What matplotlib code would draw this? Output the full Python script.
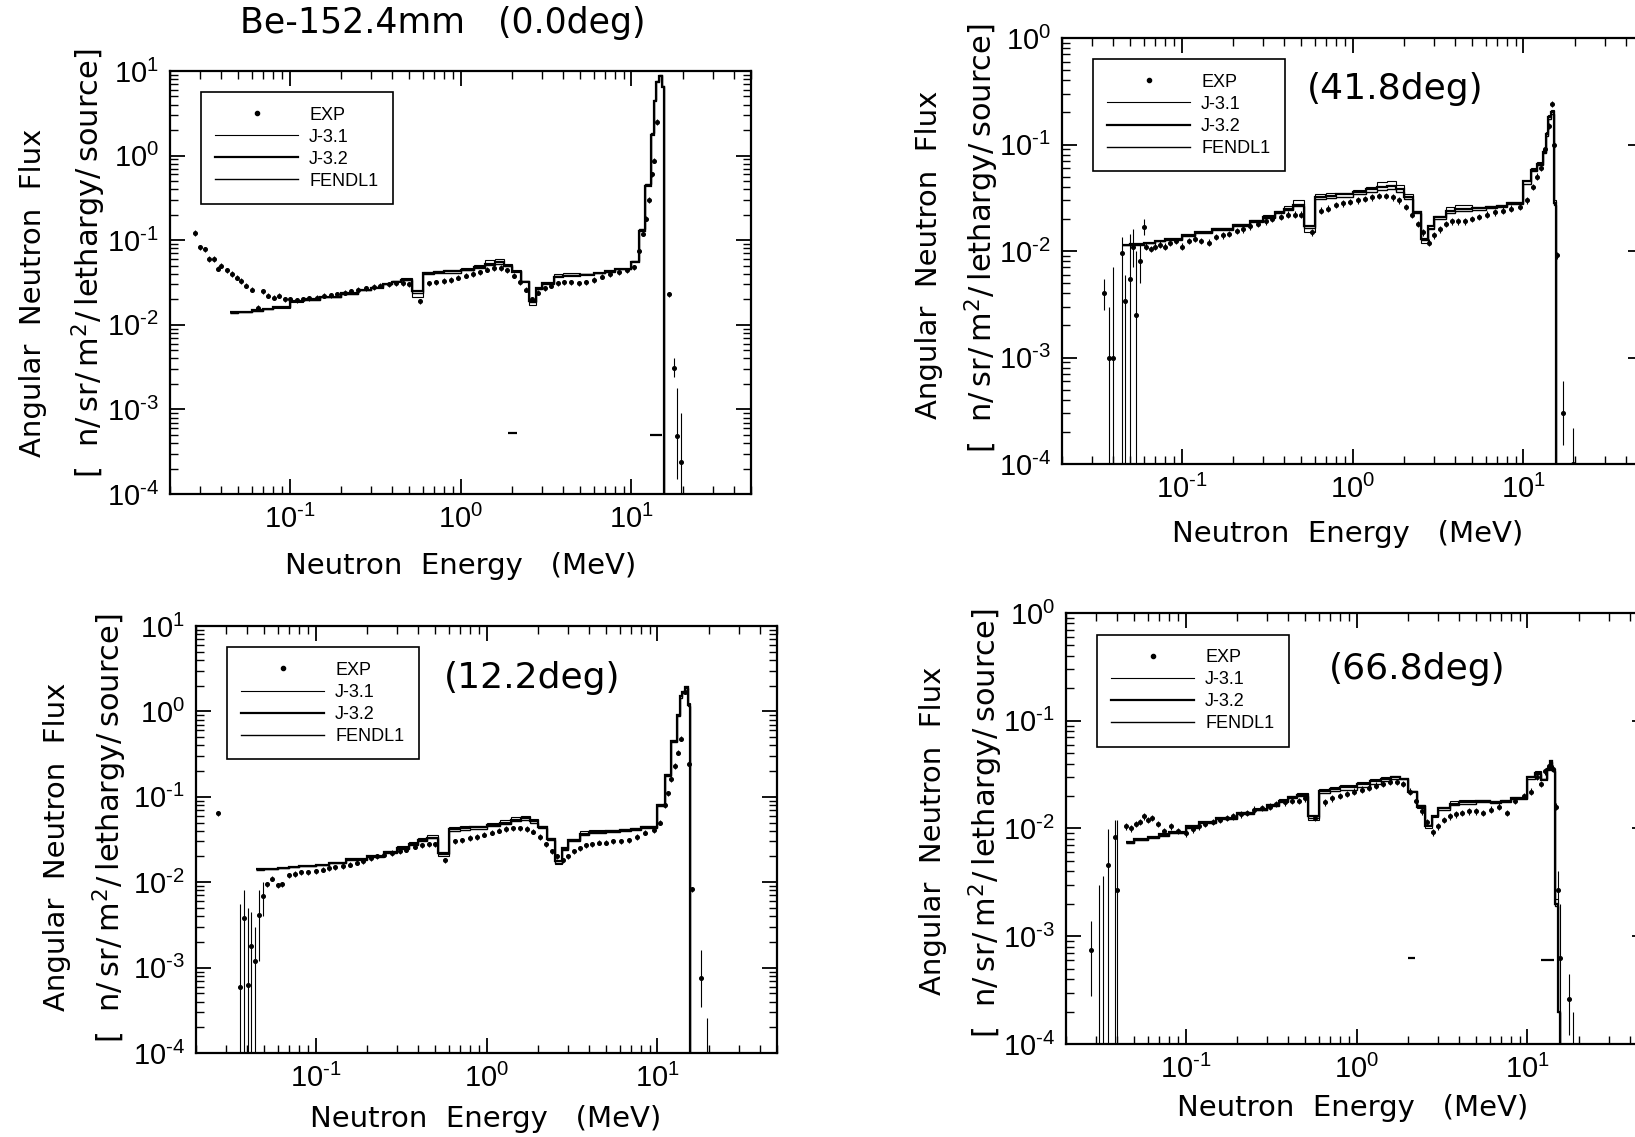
import numpy as np
import matplotlib
matplotlib.use('Agg')
import matplotlib.pyplot as plt
from matplotlib.lines import Line2D
from matplotlib.ticker import LogLocator, FuncFormatter, NullFormatter

plt.rcParams['font.family'] = ['DejaVu Sans']
plt.rcParams['mathtext.default'] = 'regular'

# --- calculation group structure (MeV), shared by all panels ---
edges = [0.045, 0.05, 0.06, 0.07, 0.08, 0.1, 0.12, 0.15, 0.2, 0.25, 0.3, 0.35,
         0.4, 0.45, 0.52, 0.6, 0.7, 0.8, 1.0, 1.2, 1.4, 1.6, 1.8, 2.0, 2.25,
         2.5, 2.75, 3.0, 3.5, 4.0, 5.0, 6.0, 7.0, 8.0, 10.0, 11.0, 12.0, 13.0,
         13.5, 14.0, 14.5, 15.0, 15.5, 20.0]

# --- 0.0 deg ---
p1_j31 = [0.0138, 0.0140, 0.0146, 0.0153, 0.0160, 0.0188, 0.0198, 0.0212, 0.0232, 0.0255,
          0.0278, 0.0305, 0.0330, 0.0355, 0.0215, 0.0420, 0.0435, 0.0445, 0.0470, 0.0510,
          0.0580, 0.0600, 0.0530, 0.0450, 0.0330, 0.0170, 0.0265, 0.0310, 0.0400, 0.0410,
          0.0400, 0.0410, 0.0430, 0.0460, 0.0560, 0.1300, 0.4500, 1.80, 4.50, 7.50,
          8.80, 6.50, 1e-7]
p1_j32 = [0.0140, 0.0142, 0.0148, 0.0155, 0.0162, 0.0190, 0.0200, 0.0215, 0.0235, 0.0255,
          0.0275, 0.0300, 0.0320, 0.0335, 0.0250, 0.0410, 0.0420, 0.0430, 0.0450, 0.0480,
          0.0520, 0.0550, 0.0500, 0.0420, 0.0320, 0.0190, 0.0270, 0.0310, 0.0370, 0.0380,
          0.0390, 0.0410, 0.0430, 0.0460, 0.0550, 0.1300, 0.4400, 1.75, 4.40, 7.40,
          8.70, 6.40, 1e-7]
p1_fendl = [0.0139, 0.0141, 0.0147, 0.0154, 0.0161, 0.0189, 0.0199, 0.0214, 0.0234, 0.0256,
            0.0276, 0.0302, 0.0325, 0.0340, 0.0240, 0.0395, 0.0405, 0.0415, 0.0440, 0.0470,
            0.0510, 0.0530, 0.0490, 0.0430, 0.0325, 0.0185, 0.0268, 0.0305, 0.0380, 0.0385,
            0.0395, 0.0405, 0.0425, 0.0455, 0.0570, 0.1350, 0.4600, 1.85, 4.60, 7.60,
            8.90, 6.60, 1e-7]
p1_exp_e = [0.028, 0.030, 0.032, 0.034, 0.036, 0.038, 0.040, 0.043, 0.046, 0.049,
            0.052, 0.056, 0.060, 0.065, 0.070, 0.075, 0.081, 0.087, 0.094, 0.100,
            0.110, 0.120, 0.130, 0.145, 0.160, 0.175, 0.190, 0.210, 0.230, 0.250,
            0.280, 0.310, 0.340, 0.380, 0.420, 0.460, 0.500, 0.580, 0.650, 0.720,
            0.800, 0.880, 0.970, 1.07, 1.18, 1.30, 1.43, 1.57, 1.72, 1.88,
            2.05, 2.22, 2.40, 2.62, 2.85, 3.10, 3.40, 3.70, 4.05, 4.45,
            4.90, 5.40, 6.00, 6.70, 7.50, 8.40, 9.40, 10.3, 11.0, 11.6,
            12.1, 12.6, 13.1, 13.6, 14.1, 16.6]
p1_exp_v = [0.122, 0.082, 0.078, 0.060, 0.060, 0.046, 0.050, 0.044, 0.040, 0.036,
            0.033, 0.029, 0.026, 0.016, 0.025, 0.022, 0.021, 0.022, 0.020, 0.020,
            0.0195, 0.020, 0.0205, 0.021, 0.022, 0.0225, 0.023, 0.024, 0.025, 0.026,
            0.027, 0.028, 0.029, 0.030, 0.031, 0.031, 0.030, 0.019, 0.031, 0.032,
            0.033, 0.034, 0.036, 0.038, 0.040, 0.042, 0.045, 0.047, 0.047, 0.044,
            0.038, 0.032, 0.026, 0.020, 0.024, 0.027, 0.029, 0.031, 0.032, 0.032,
            0.031, 0.032, 0.034, 0.037, 0.040, 0.042, 0.044, 0.048, 0.075, 0.120,
            0.180, 0.300, 0.600, 0.870, 2.50, 0.023]
p1_bar_e = [17.8, 18.5, 19.5]
p1_bar_v = [0.0031, 4.8e-4, 2.4e-4]
p1_bar_lo = [0.0024, 1.5e-4, 1e-6]
p1_bar_hi = [0.0040, 1.8e-3, 9e-4]
p1_mark_e0 = [1.9, 12.8]
p1_mark_e1 = [2.15, 15.0]
p1_mark_v = [5.2e-4, 5.0e-4]

# --- 41.8 deg ---
p2_j31 = [0.0114, 0.0116, 0.0119, 0.0124, 0.0129, 0.0140, 0.0152, 0.0163, 0.0180, 0.0196,
          0.0218, 0.0240, 0.0262, 0.0300, 0.0150, 0.0340, 0.0350, 0.0350, 0.0370, 0.0400,
          0.0440, 0.0450, 0.0420, 0.0340, 0.0240, 0.0120, 0.0165, 0.0215, 0.0260, 0.0270,
          0.0260, 0.0265, 0.0270, 0.0290, 0.0450, 0.0600, 0.0680, 0.0900, 0.1300, 0.1900,
          0.2100, 0.0300, 1e-7]
p2_j32 = [0.0115, 0.0117, 0.0120, 0.0125, 0.0130, 0.0140, 0.0150, 0.0160, 0.0175, 0.0190,
          0.0210, 0.0230, 0.0250, 0.0270, 0.0170, 0.0320, 0.0330, 0.0340, 0.0360, 0.0380,
          0.0400, 0.0410, 0.0380, 0.0320, 0.0230, 0.0130, 0.0170, 0.0210, 0.0240, 0.0250,
          0.0255, 0.0260, 0.0265, 0.0280, 0.0450, 0.0580, 0.0650, 0.0850, 0.1250, 0.1800,
          0.2000, 0.0280, 1e-7]
p2_fendl = [0.0113, 0.0115, 0.0118, 0.0123, 0.0128, 0.0138, 0.0148, 0.0158, 0.0172, 0.0187,
            0.0205, 0.0225, 0.0245, 0.0265, 0.0165, 0.0310, 0.0315, 0.0320, 0.0340, 0.0355,
            0.0370, 0.0380, 0.0360, 0.0310, 0.0225, 0.0128, 0.0160, 0.0200, 0.0225, 0.0235,
            0.0245, 0.0255, 0.0260, 0.0275, 0.0430, 0.0560, 0.0640, 0.0830, 0.1200, 0.1750,
            0.1950, 0.0270, 1e-7]
p2_exp_e = [0.062, 0.066, 0.070, 0.075, 0.080, 0.086, 0.093, 0.100, 0.110, 0.120,
            0.130, 0.145, 0.160, 0.175, 0.190, 0.210, 0.230, 0.250, 0.280, 0.310,
            0.340, 0.380, 0.420, 0.460, 0.500, 0.580, 0.650, 0.720, 0.800, 0.880,
            0.970, 1.07, 1.18, 1.30, 1.43, 1.57, 1.72, 1.88, 2.05, 2.22,
            2.40, 2.60, 2.80, 3.00, 3.25, 3.50, 3.80, 4.15, 4.55, 5.00,
            5.50, 6.10, 6.80, 7.60, 8.50, 9.50, 10.5, 11.3, 12.0, 12.7,
            13.4, 14.1, 14.6, 15.1, 15.8]
p2_exp_v = [0.011, 0.0105, 0.011, 0.0115, 0.011, 0.012, 0.0125, 0.011, 0.0125, 0.013,
            0.0125, 0.012, 0.0135, 0.014, 0.0145, 0.0155, 0.016, 0.017, 0.018, 0.019,
            0.020, 0.021, 0.022, 0.022, 0.022, 0.015, 0.024, 0.025, 0.027, 0.028,
            0.029, 0.030, 0.031, 0.032, 0.033, 0.033, 0.032, 0.030, 0.026, 0.022,
            0.018, 0.015, 0.012, 0.014, 0.016, 0.018, 0.019, 0.019, 0.019, 0.020,
            0.021, 0.022, 0.023, 0.024, 0.025, 0.026, 0.030, 0.040, 0.050, 0.060,
            0.090, 0.150, 0.240, 0.100, 0.0091]
p2_bar_e = [0.035, 0.0375, 0.040, 0.045, 0.047, 0.050, 0.052, 0.054, 0.057, 0.060, 17.0, 19.4]
p2_bar_v = [0.0040, 0.0010, 0.0010, 0.0095, 0.0034, 0.0055, 0.011, 0.0025, 0.0080, 0.0167, 3.0e-4, 1.0e-4]
p2_bar_lo = [0.0028, 1e-6, 1e-6, 1e-6, 1e-6, 1e-6, 0.007, 1e-6, 0.005, 0.014, 1.5e-4, 1e-6]
p2_bar_hi = [0.0055, 0.0030, 0.0070, 0.0135, 0.0060, 0.0145, 0.016, 0.0100, 0.0120, 0.0200, 6.0e-4, 2.2e-4]

# --- 12.2 deg ---
p3_j31 = [0.0141, 0.0143, 0.0147, 0.0151, 0.0155, 0.0160, 0.0172, 0.0188, 0.0205, 0.0232,
          0.0262, 0.0295, 0.0330, 0.0360, 0.0200, 0.0440, 0.0450, 0.0460, 0.0490, 0.0530,
          0.0580, 0.0600, 0.0550, 0.0460, 0.0330, 0.0165, 0.0245, 0.0320, 0.0400, 0.0410,
          0.0410, 0.0420, 0.0430, 0.0450, 0.0820, 0.1850, 0.4600, 0.9200, 1.5500, 1.7500,
          2.0000, 1.2500, 1e-7]
p3_j32 = [0.0142, 0.0144, 0.0148, 0.0152, 0.0156, 0.0160, 0.0170, 0.0185, 0.0200, 0.0225,
          0.0250, 0.0280, 0.0310, 0.0330, 0.0220, 0.0420, 0.0430, 0.0440, 0.0470, 0.0500,
          0.0540, 0.0560, 0.0520, 0.0440, 0.0320, 0.0175, 0.0250, 0.0310, 0.0370, 0.0390,
          0.0400, 0.0410, 0.0420, 0.0440, 0.0800, 0.1800, 0.4500, 0.9000, 1.5000, 1.7000,
          1.9500, 1.2000, 1e-7]
p3_fendl = [0.0140, 0.0142, 0.0146, 0.0150, 0.0154, 0.0158, 0.0168, 0.0183, 0.0198, 0.0222,
            0.0247, 0.0276, 0.0305, 0.0325, 0.0215, 0.0400, 0.0410, 0.0420, 0.0450, 0.0480,
            0.0520, 0.0540, 0.0500, 0.0430, 0.0315, 0.0170, 0.0240, 0.0300, 0.0360, 0.0375,
            0.0390, 0.0400, 0.0410, 0.0430, 0.0790, 0.1750, 0.4400, 0.8800, 1.4500, 1.6500,
            1.9000, 1.1500, 1e-7]
p3_exp_e = [0.027, 0.052, 0.056, 0.060, 0.064, 0.070, 0.076, 0.082, 0.090, 0.100,
            0.110, 0.120, 0.130, 0.145, 0.160, 0.175, 0.190, 0.210, 0.230, 0.250,
            0.280, 0.310, 0.340, 0.380, 0.420, 0.460, 0.500, 0.570, 0.650, 0.720,
            0.800, 0.880, 0.970, 1.07, 1.18, 1.30, 1.43, 1.57, 1.72, 1.88,
            2.05, 2.22, 2.40, 2.60, 2.80, 3.00, 3.25, 3.50, 3.80, 4.15,
            4.55, 5.00, 5.50, 6.10, 6.80, 7.60, 8.50, 9.50, 10.4, 11.0,
            11.5, 12.0, 12.6, 13.2, 13.8, 14.4, 15.2, 16.0]
p3_exp_v = [0.064, 0.0095, 0.011, 0.0092, 0.0095, 0.012, 0.0125, 0.013, 0.013, 0.0135,
            0.014, 0.0145, 0.015, 0.0155, 0.016, 0.017, 0.0175, 0.019, 0.020, 0.021,
            0.022, 0.023, 0.024, 0.026, 0.027, 0.028, 0.028, 0.018, 0.030, 0.031,
            0.033, 0.034, 0.036, 0.038, 0.040, 0.042, 0.043, 0.043, 0.042, 0.039,
            0.034, 0.028, 0.023, 0.020, 0.018, 0.020, 0.023, 0.025, 0.027, 0.028,
            0.029, 0.029, 0.030, 0.030, 0.031, 0.034, 0.038, 0.041, 0.050, 0.080,
            0.110, 0.160, 0.230, 0.330, 0.480, 1.70, 0.245, 0.0083]
p3_bar_e = [0.0364, 0.038, 0.0403, 0.042, 0.044, 0.0465, 0.049, 17.9, 19.5]
p3_bar_v = [6.0e-4, 0.0038, 6.3e-4, 0.0018, 0.0012, 0.0041, 0.0069, 7.5e-4, 1e-5]
p3_bar_lo = [1e-6, 1e-6, 1e-6, 1e-6, 1e-6, 0.0012, 0.0040, 3.5e-4, 1e-6]
p3_bar_hi = [0.0055, 0.0082, 0.0050, 0.0045, 0.0030, 0.0080, 0.0100, 1.6e-3, 2.6e-4]

# --- 66.8 deg ---
p4_j31 = [0.0074, 0.0079, 0.0083, 0.0087, 0.0091, 0.0104, 0.0115, 0.0126, 0.0142, 0.0154,
          0.0170, 0.0186, 0.0202, 0.0212, 0.0120, 0.0235, 0.0245, 0.0255, 0.0270, 0.0285,
          0.0300, 0.0310, 0.0295, 0.0220, 0.0155, 0.0100, 0.0128, 0.0160, 0.0180, 0.0185,
          0.0185, 0.0180, 0.0185, 0.0195, 0.0310, 0.0340, 0.0290, 0.0370, 0.0430, 0.0360,
          0.0022, 0.0002, 1e-7]
p4_j32 = [0.0075, 0.0080, 0.0084, 0.0088, 0.0092, 0.0105, 0.0115, 0.0125, 0.0140, 0.0150,
          0.0165, 0.0180, 0.0195, 0.0205, 0.0130, 0.0225, 0.0235, 0.0245, 0.0260, 0.0275,
          0.0290, 0.0300, 0.0290, 0.0220, 0.0160, 0.0105, 0.0130, 0.0155, 0.0170, 0.0175,
          0.0180, 0.0175, 0.0180, 0.0190, 0.0300, 0.0330, 0.0280, 0.0360, 0.0420, 0.0350,
          0.0020, 0.0002, 1e-7]
p4_fendl = [0.0073, 0.0078, 0.0082, 0.0086, 0.0090, 0.0102, 0.0112, 0.0122, 0.0137, 0.0147,
            0.0162, 0.0176, 0.0190, 0.0200, 0.0125, 0.0215, 0.0222, 0.0230, 0.0245, 0.0260,
            0.0275, 0.0290, 0.0285, 0.0225, 0.0165, 0.0108, 0.0132, 0.0150, 0.0165, 0.0170,
            0.0175, 0.0172, 0.0178, 0.0188, 0.0290, 0.0320, 0.0285, 0.0350, 0.0410, 0.0340,
            0.0019, 0.0002, 1e-7]
p4_exp_e = [0.045, 0.048, 0.051, 0.054, 0.057, 0.060, 0.064, 0.069, 0.075, 0.082,
            0.090, 0.100, 0.110, 0.120, 0.130, 0.145, 0.160, 0.175, 0.190, 0.210,
            0.230, 0.250, 0.280, 0.310, 0.340, 0.380, 0.420, 0.460, 0.500, 0.570,
            0.650, 0.720, 0.800, 0.880, 0.970, 1.07, 1.18, 1.30, 1.43, 1.57,
            1.72, 1.88, 2.05, 2.22, 2.40, 2.60, 2.80, 3.00, 3.25, 3.50,
            3.80, 4.15, 4.55, 5.00, 5.50, 6.10, 6.80, 7.60, 8.50, 9.50,
            10.5, 11.3, 12.0, 12.7, 13.4, 14.1, 14.6]
p4_exp_v = [0.0105, 0.010, 0.011, 0.0115, 0.013, 0.012, 0.0125, 0.011, 0.0095, 0.0105,
            0.0095, 0.009, 0.0098, 0.0105, 0.011, 0.0115, 0.012, 0.0125, 0.013, 0.0135,
            0.014, 0.015, 0.0155, 0.016, 0.017, 0.0175, 0.018, 0.018, 0.019, 0.0125,
            0.0175, 0.019, 0.020, 0.021, 0.022, 0.023, 0.024, 0.025, 0.026, 0.027,
            0.027, 0.026, 0.022, 0.018, 0.0145, 0.0115, 0.0092, 0.0105, 0.012, 0.013,
            0.0135, 0.014, 0.0145, 0.0145, 0.014, 0.015, 0.016, 0.014, 0.018, 0.020,
            0.022, 0.030, 0.026, 0.034, 0.038, 0.036, 0.016]
p4_bar_e = [0.028, 0.031, 0.033, 0.035, 0.0385, 0.040, 15.0, 15.5, 17.5, 18.5]
p4_bar_v = [7.4e-4, 1e-5, 1e-5, 0.0046, 0.0083, 0.0027, 0.0027, 6.3e-4, 2.6e-4, 1e-5]
p4_bar_lo = [2.8e-4, 1e-6, 1e-6, 1e-6, 1e-6, 1e-6, 0.0018, 1e-6, 1.2e-4, 1e-6]
p4_bar_hi = [1.4e-3, 3.0e-3, 3.6e-3, 0.0098, 0.012, 0.012, 0.0040, 2.0e-3, 4.5e-4, 2.0e-4]
p4_mark_e0 = [2.0, 12.0]
p4_mark_e1 = [2.2, 14.3]
p4_mark_v = [6.3e-4, 6.0e-4]

labels = ['EXP', 'J-3.1', 'J-3.2', 'FENDL1']

W, H = 1635, 1137
fig = plt.figure(figsize=(W / 100, H / 100), dpi=100)


def add_px_axes(left, top, bottom):
    # axes width fixed by the 0.02-50 MeV range at ~171 px per decade
    width = 581
    return fig.add_axes([left / W, 1 - bottom / H, width / W, (bottom - top) / H])


def decade(v, pos):
    e = int(round(np.log10(v)))
    if e < 0:
        # short hyphen in the exponent, as in the original figure
        return '$10^{\u2010%d}$' % (-e)
    return r'$10^{%d}$' % e


def draw_panel(ax, j31, j32, fendl, exp_e, exp_v, bar_e, bar_v, bar_lo, bar_hi,
               ytop, marks=None):
    ax.set_xscale('log')
    ax.set_yscale('log')

    ax.stairs(j31, edges, color='k', lw=0.8, baseline=None)
    ax.stairs(fendl, edges, color='k', lw=1.0, baseline=None)
    ax.stairs(j32, edges, color='k', lw=1.6, baseline=None)

    exp_e = np.array(exp_e)
    exp_v = np.array(exp_v)
    ax.errorbar(exp_e, exp_v, yerr=exp_v * 0.07, fmt='o', ms=2.6, color='k',
                elinewidth=0.8, capsize=0)
    bar_v = np.array(bar_v)
    ax.errorbar(bar_e, bar_v, yerr=[bar_v - np.array(bar_lo), np.array(bar_hi) - bar_v],
                fmt='o', ms=2.6, color='k', elinewidth=0.8, capsize=0)
    if marks is not None:
        ax.hlines(marks[2], marks[0], marks[1], color='k', lw=1.6)

    ax.set_xlim(0.02, 50)
    ax.set_ylim(1e-4, ytop)

    for axis in (ax.xaxis, ax.yaxis):
        axis.set_major_locator(LogLocator(base=10, numticks=12))
        axis.set_minor_locator(LogLocator(base=10, subs=np.arange(2, 10), numticks=30))
        axis.set_major_formatter(FuncFormatter(decade))
        axis.set_minor_formatter(NullFormatter())
    ax.tick_params(which='both', direction='in', top=True, right=True)
    ax.tick_params(which='major', length=11, width=1.3, labelsize=21, pad=8,
                   labelfontfamily='Liberation Sans')
    ax.tick_params(which='minor', length=6, width=1.0)
    for sp in ax.spines.values():
        sp.set_linewidth(1.6)

    handles = [Line2D([], [], marker='o', ls='none', ms=3, color='k'),
               Line2D([], [], color='k', lw=0.8),
               Line2D([], [], color='k', lw=1.6),
               Line2D([], [], color='k', lw=1.0)]
    leg = ax.legend(handles, labels, loc='upper left', bbox_to_anchor=(0.053, 0.95),
                    borderaxespad=0, fancybox=False, edgecolor='k', framealpha=1,
                    prop={'family': ['Liberation Sans', 'DejaVu Sans'], 'size': 13},
                    handlelength=4.6, handletextpad=0.6, borderpad=0.8,
                    labelspacing=0.28, numpoints=1)
    leg.get_frame().set_linewidth(1.2)


def axis_labels(ax, l1, l2, xl):
    ax.text(l1[0], l1[1], 'Angular  Neutron  Flux', transform=ax.transAxes,
            rotation=90, ha='center', va='center', fontsize=21)
    ax.text(l2[0], l2[1],
            '[  n/\u2009sr/\u2009m$^2$/\u2009lethargy/\u2009source]',
            transform=ax.transAxes, rotation=90, ha='center', va='center',
            fontsize=22)
    ax.text(xl[0], xl[1], 'Neutron  Energy   (MeV)', transform=ax.transAxes,
            ha='center', va='center', fontsize=21)


ax1 = add_px_axes(170, 71, 494)
draw_panel(ax1, p1_j31, p1_j32, p1_fendl, p1_exp_e, p1_exp_v,
           p1_bar_e, p1_bar_v, p1_bar_lo, p1_bar_hi, 10,
           marks=(p1_mark_e0, p1_mark_e1, p1_mark_v))
axis_labels(ax1, (-0.236, 0.475), (-0.139, 0.545), (0.5, -0.17))
fig.text(443 / W, 1 - 23 / H, 'Be-152.4mm   (0.0deg)', ha='center', va='center',
         fontsize=25)

ax2 = add_px_axes(1062, 38, 464)
draw_panel(ax2, p2_j31, p2_j32, p2_fendl, p2_exp_e, p2_exp_v,
           p2_bar_e, p2_bar_v, p2_bar_lo, p2_bar_hi, 1)
axis_labels(ax2, (-0.229, 0.49), (-0.138, 0.53), (0.492, -0.164))
ax2.text(0.573, 0.88, '(41.8deg)', transform=ax2.transAxes, ha='center',
         va='center', fontsize=26)

ax3 = add_px_axes(196, 626, 1053)
draw_panel(ax3, p3_j31, p3_j32, p3_fendl, p3_exp_e, p3_exp_v,
           p3_bar_e, p3_bar_v, p3_bar_lo, p3_bar_hi, 10)
axis_labels(ax3, (-0.239, 0.484), (-0.149, 0.525), (0.499, -0.155))
ax3.text(0.579, 0.879, '(12.2deg)', transform=ax3.transAxes, ha='center',
         va='center', fontsize=26)

ax4 = add_px_axes(1066, 613, 1044)
draw_panel(ax4, p4_j31, p4_j32, p4_fendl, p4_exp_e, p4_exp_v,
           p4_bar_e, p4_bar_v, p4_bar_lo, p4_bar_hi, 1,
           marks=(p4_mark_e0, p4_mark_e1, p4_mark_v))
axis_labels(ax4, (-0.229, 0.494), (-0.138, 0.512), (0.494, -0.148))
ax4.text(0.604, 0.87, '(66.8deg)', transform=ax4.transAxes, ha='center',
         va='center', fontsize=26)

fig.savefig('out.png', dpi=100)
